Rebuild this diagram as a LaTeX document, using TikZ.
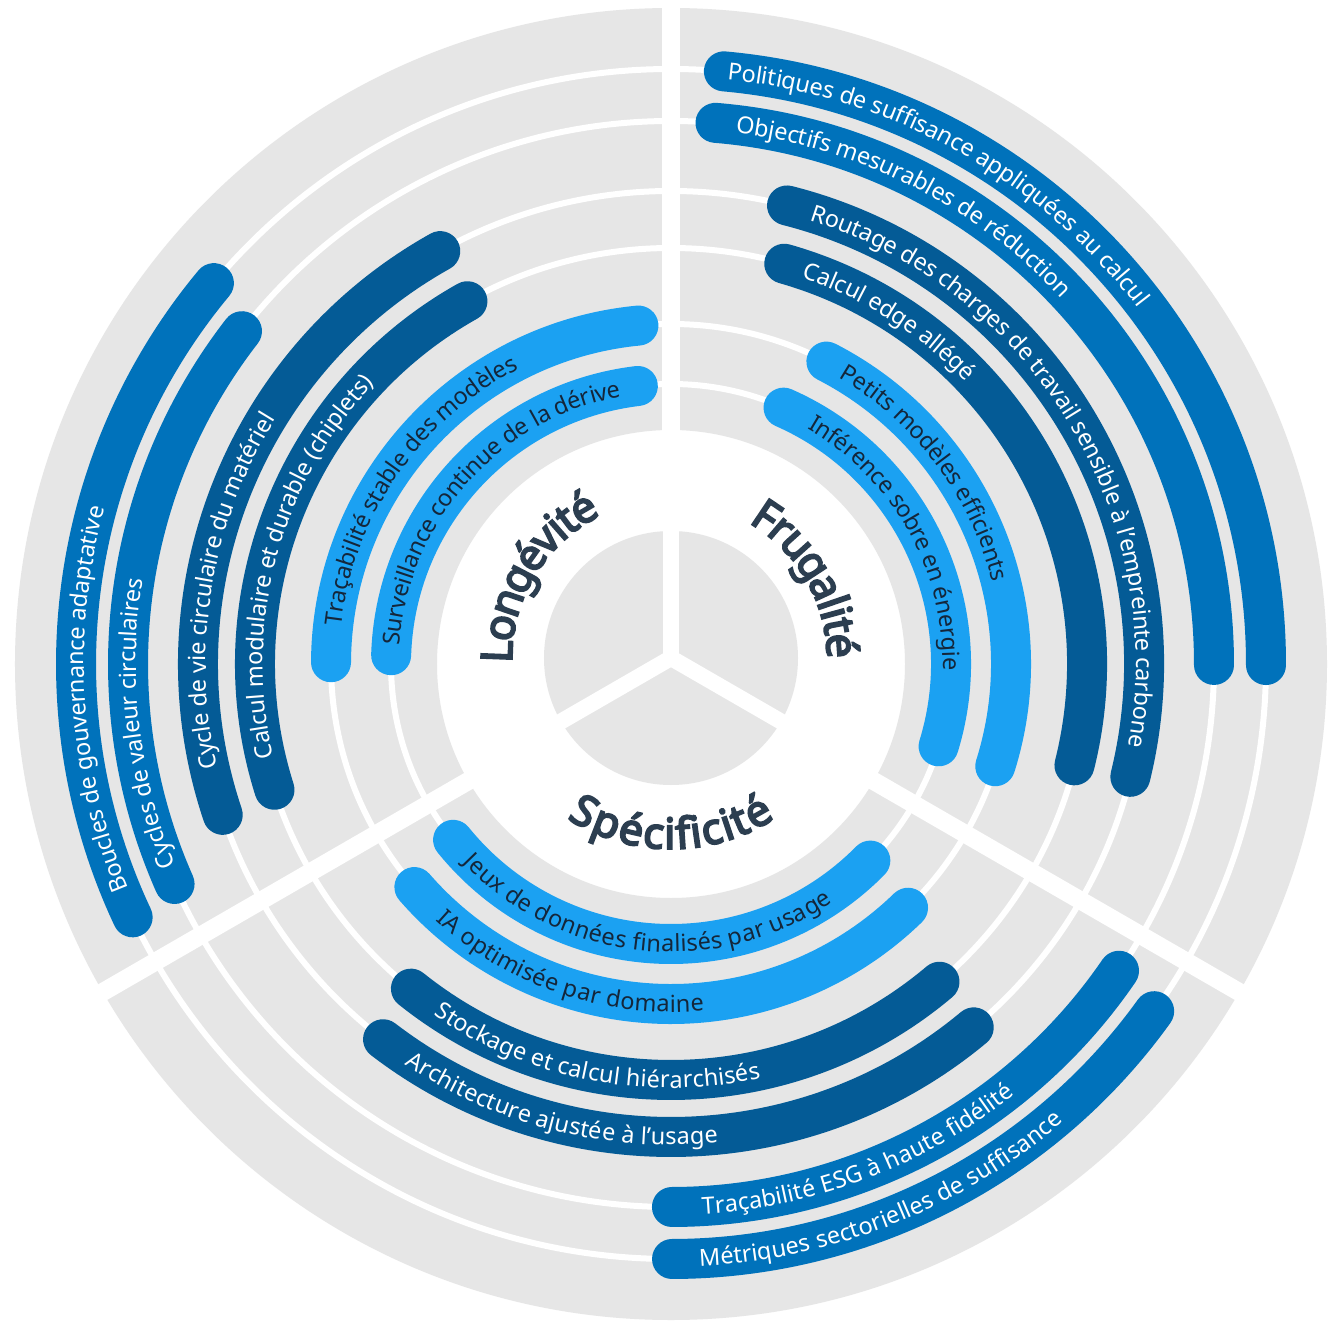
\documentclass[tikz,border=0pt]{standalone}
\usepackage{fontspec}
\setmainfont{Noto Sans}
\newfontfamily\titlefam{Noto Sans}[FakeBold=4.5]
\usetikzlibrary{decorations.text}
\definecolor{ringgray}{HTML}{E6E6E6}
\definecolor{pilllight}{HTML}{1BA1F2}
\definecolor{pillmid}{HTML}{0072BB}
\definecolor{pilldark}{HTML}{045B96}
\definecolor{titleink}{HTML}{2C3E50}
\definecolor{darkink}{HTML}{14263A}

\newcommand{\rinner}{234}
\newcommand{\router}{656}
\newcommand{\pillfont}{\fontsize{23.5}{25}\selectfont}
\newcommand{\titlefont}{\titlefam\fontsize{43}{45}\selectfont\color{titleink}}

% \pill[text colour]{fill}{radius}{from}{to}{indent}{label}
\newcommand{\pill}[7][white]{%
  \draw[pillline, #2] (#4:#3) arc[start angle=#4, end angle=#5, radius=#3];
  \path[decorate, decoration={text along path, text={|\pillfont\color{#1}|#7},
      text align={align=left, left indent=#6pt}, raise=-8pt}]
    (#4:#3) arc[start angle=#4, end angle=#5, radius=#3];
}

\begin{document}
\begin{tikzpicture}[
    x=1pt, y=1pt,
    pillline/.style={line width=40pt, line cap=round},
    ringline/.style={white, line width=6pt},
    title/.style={decorate, decoration={text along path, text align=center, raise=-16pt}}
]
\fill[white] (-671,-658) rectangle (661,664);
\useasboundingbox (-671,-658) rectangle (661,664);

% gray ring, track lines and the three cuts
\fill[ringgray, even odd rule] (0,0) circle[radius=\router] (0,0) circle[radius=\rinner];
\foreach \rad in {280,340,416,473,543,595}
  \draw[ringline] (0,0) circle[radius=\rad];
\foreach \a in {90,210,330}
  \draw[white, line width=18pt] (0,0) -- (\a:670);

% hub
\begin{scope}[shift={(0,6)}]
  \fill[ringgray] (0,0) circle[radius=127];
  \foreach \a in {90,210,330}
    \draw[white, line width=16pt] (0,0) -- (\a:135);
\end{scope}

% Longevite
\pill{pillmid}{595}{205.2}{140.2}{28}{Boucles de gouvernance adaptative}
\pill{pillmid}{543}{203.9}{142.2}{17}{Cycles de valeur circulaires}
\pill{pilldark}{473}{198.6}{119.2}{47}{Cycle de vie circulaire du matériel}
\pill{pilldark}{416}{197.6}{119.3}{32}{Calcul modulaire et durable (chiplets)}
\pill[darkink]{pilllight}{340}{179.7}{95.5}{37}{Traçabilité stable des modèles}
\pill[darkink]{pilllight}{280}{178.2}{96.8}{10}{Surveillance continue de la dérive}

% Frugalite
\pill{pillmid}{595}{84.9}{-0.1}{4}{Politiques de suffisance appliquées au calcul}
\pill{pillmid}{543}{85.3}{-0.1}{21}{Objectifs mesurables de réduction}
\pill{pilldark}{473}{75.8}{-13.8}{26}{Routage des charges de travail sensible à l’empreinte carbone}
\pill{pilldark}{416}{74.2}{-14.1}{21}{Calcul edge allégé}
\pill[darkink]{pilllight}{340}{62.8}{-17.5}{19}{Petits modèles efficients}
\pill[darkink]{pilllight}{280}{66.3}{-17.1}{31}{Inférence sobre en énergie}

% Specificite
\pill[darkink]{pilllight}{280}{218.9}{315.4}{23}{Jeux de données finalisés par usage}
\pill[darkink]{pilllight}{340}{221}{314.2}{38}{IA optimisée par domaine}
\pill{pilldark}{416}{231.3}{310.2}{33}{Stockage et calcul hiérarchisés}
\pill{pilldark}{473}{232.5}{309.8}{32}{Architecture ajustée à l’usage}
\pill{pillmid}{543}{270.1}{325.6}{30}{Traçabilité ESG à haute fidélité}
\pill{pillmid}{595}{270.1}{324.3}{27}{Métriques sectorielles de suffisance}

% titles
\begin{scope}[shift={(0,6)}]
  \path[title, decoration={text={|\titlefont|Longévité}}]
    (190:175) arc[start angle=190, end angle=108, radius=175];
  \path[title, decoration={text={|\titlefont|Frugalité}}]
    (71:172) arc[start angle=71, end angle=-11, radius=172];
  \path[title, decoration={text={|\titlefont|Spécificité}}]
    (230:175) arc[start angle=230, end angle=310, radius=175];
\end{scope}
\end{tikzpicture}
\end{document}
